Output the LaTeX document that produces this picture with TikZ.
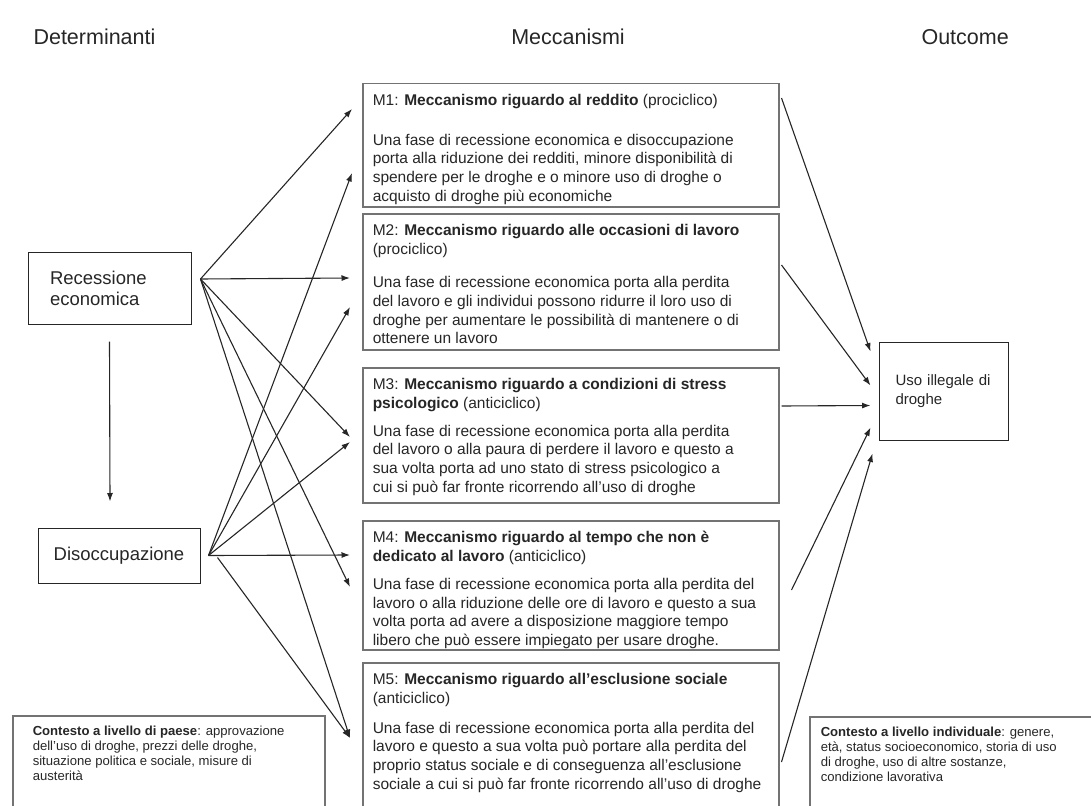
\documentclass[tikz,border=0pt]{standalone}
\usepackage{fontspec}
\setmainfont{Liberation Sans}
\usepackage{tikz}
\usetikzlibrary{shapes,arrows.meta}
\newcommand{\boxtext}[3]{\parbox[c][#1][t]{#2}{\raggedright\vspace*{10.5pt}#3}}
\tikzstyle{mech} = [rectangle, draw=black!55, line width=1.5pt, anchor=north west, inner xsep=10pt, inner ysep=0pt, text=black!85, font=\fontsize{15.5}{18.7}\selectfont]
\tikzstyle{context} = [mech, font=\fontsize{13.1}{15}\selectfont]
\tikzstyle{block} = [rectangle, draw=black!85, line width=1pt, text=black!85, font=\fontsize{18.5}{21}\selectfont]
\tikzstyle{coltitle} = [text=black!85, font=\fontsize{21.5}{25}\selectfont]
\tikzstyle{line} = [draw=black!85, -{Latex[length=8.5pt,width=6pt]}, line width=1.1pt]

\begin{document}
\begin{tikzpicture}[x=1pt,y=-1pt]
\useasboundingbox (0,0) rectangle (1091,805);
\clip (0,0) rectangle (1091,805);
% column titles
\node[coltitle, anchor=base west] (tdet) at (30,44.5) {Determinanti};
\node[coltitle, anchor=base] (tmec) at (568,44.5) {Meccanismi};
\node[coltitle, anchor=base west] (tout) at (918,44.5) {Outcome};

% determinants
\node[block, minimum width=163pt, minimum height=72pt, text width=119pt, inner xsep=22pt, align=left] (rec) at (109.5,288) {Recessione\\economica};
\node[block, minimum width=162pt, minimum height=55pt] (diso) at (119,555.5) {Disoccupazione};

% mechanisms
\node[mech] (m1) at (362,83) {\boxtext{123pt}{396pt}{M1: \textbf{Meccanismo riguardo al reddito} (prociclico)\par\vspace{21pt}Una fase di recessione economica e disoccupazione\\porta alla riduzione dei redditi, minore disponibilità di\\spendere per le droghe e o minore uso di droghe o\\acquisto di droghe più economiche}};
\node[mech] (m2) at (362,213) {\boxtext{136pt}{396pt}{M2: \textbf{Meccanismo riguardo alle occasioni di lavoro}\\(prociclico)\par\vspace{15pt}Una fase di recessione economica porta alla perdita\\del lavoro e gli individui possono ridurre il loro uso di\\droghe per aumentare le possibilità di mantenere o di\\ottenere un lavoro}};
\node[mech] (m3) at (362,367) {\boxtext{135pt}{396pt}{M3: \textbf{Meccanismo riguardo a condizioni di stress}\\\textbf{psicologico} (anticiclico)\par\vspace{9.3pt}Una fase di recessione economica porta alla perdita\\del lavoro o alla paura di perdere il lavoro e questo a\\sua volta porta ad uno stato di stress psicologico a\\cui si può far fronte ricorrendo all'uso di droghe}};
\node[mech] (m4) at (362,520) {\boxtext{129pt}{396pt}{M4: \textbf{Meccanismo riguardo al tempo che non è}\\\textbf{dedicato al lavoro} (anticiclico)\par\vspace{9.3pt}Una fase di recessione economica porta alla perdita del\\lavoro o alla riduzione delle ore di lavoro e questo a sua\\volta porta ad avere a disposizione maggiore tempo\\libero che può essere impiegato per usare droghe.}};
\node[mech] (m5) at (362,662) {\boxtext{160pt}{396pt}{M5: \textbf{Meccanismo riguardo all'esclusione sociale}\\(anticiclico)\par\vspace{11.3pt}Una fase di recessione economica porta alla perdita del\\lavoro e questo a sua volta può portare alla perdita del\\proprio status sociale e di conseguenza all'esclusione\\sociale a cui si può far fronte ricorrendo all'uso di droghe}};

% outcome
\node[block, minimum width=129pt, minimum height=98pt, text width=96pt, inner xsep=16.5pt, align=left, font=\fontsize{15}{19}\selectfont] (uso) at (943.5,391) {Uso illegale di\\droghe};

% context
\node[context, inner xsep=20pt] (cpaese) at (12,715) {\boxtext{110pt}{272pt}{\textbf{Contesto a livello di paese}: approvazione\\dell'uso di droghe, prezzi delle droghe,\\situazione politica e sociale, misure di\\austerità}};
\node[context, inner xsep=11pt] (cindiv) at (809,716) {\boxtext{110pt}{280pt}{\textbf{Contesto a livello individuale}: genere,\\età, status socioeconomico, storia di uso\\di droghe, uso di altre sostanze,\\condizione lavorativa}};

\coordinate (recout) at ([xshift=9pt,yshift=9pt]rec.east);
\coordinate (disout) at ([xshift=8pt]diso.east);
\coordinate (disout2) at ([xshift=17pt,yshift=-2pt]diso.east);

\path[line] ([yshift=-17pt]rec.south) -- ([xshift=-9pt,yshift=26pt]diso.north);
\path[line] (recout) -- ([xshift=-10pt,yshift=-26pt]m1.north west);
\path[line] (recout) -- ([xshift=-12pt,yshift=-65pt]m2.north west);
\path[line] (recout) -- ([xshift=-12pt,yshift=-70pt]m3.north west);
\path[line] (recout) -- ([xshift=-12pt,yshift=-67pt]m4.north west);
\path[line] (recout) -- ([xshift=-12pt,yshift=-76pt]m5.north west);
\path[line] (disout) -- ([xshift=-10pt,yshift=-90pt]m1.north west);
\path[line] (disout) -- ([xshift=-12pt,yshift=-94pt]m2.north west);
\path[line] (disout) -- ([xshift=-12pt,yshift=-75pt]m3.north west);
\path[line] (disout) -- ([xshift=-12pt,yshift=-35pt]m4.north west);
\path[line] (disout2) -- ([xshift=-12pt,yshift=-76pt]m5.north west);

\path[line] ([xshift=2pt,yshift=-15pt]m1.north east) -- ([xshift=-8pt,yshift=-10pt]uso.north west);
\path[line] ([xshift=2pt,yshift=-52pt]m2.north east) -- ([xshift=-8pt,yshift=-44pt]uso.north west);
\path[line] ([xshift=2pt,yshift=-39pt]m3.north east) -- ([xshift=-8pt,yshift=-64pt]uso.north west);
\path[line] ([xshift=12pt,yshift=-70pt]m4.north east) -- ([xshift=-8pt,yshift=-86pt]uso.north west);
\path[line] ([xshift=2pt,yshift=-100pt]m5.north east) -- ([xshift=-6pt,yshift=-112pt]uso.north west);
\end{tikzpicture}
\end{document}
